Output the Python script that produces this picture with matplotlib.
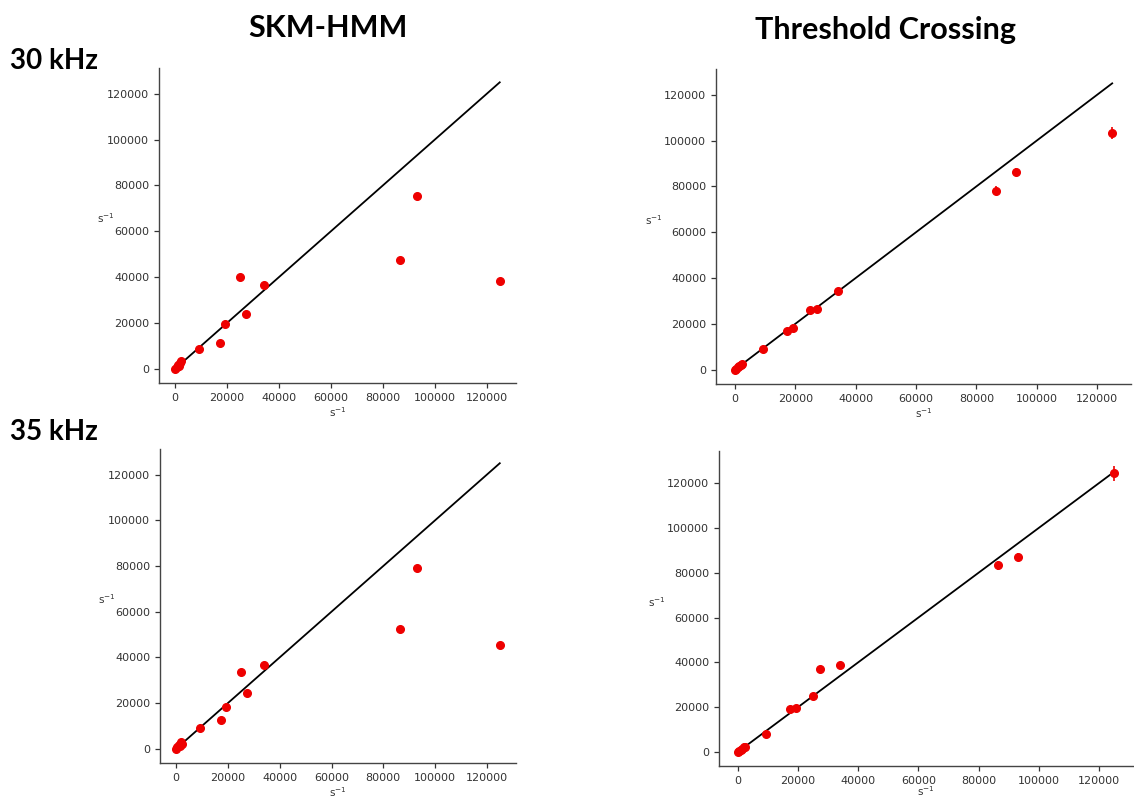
import numpy as np
import matplotlib
matplotlib.use('Agg')
import matplotlib.pyplot as plt

# true rates (s^-1), shared by every panel
x_true = np.array([0, 500, 1000, 1500, 2000, 2300, 9300, 17200, 19200,
                   25000, 27300, 34100, 86400, 93000, 125000])

# estimated rates at 30 kHz
skm_30 = np.array([0, 800, 1500, 1200, 2600, 3300, 8400, 11300, 19300,
                   40000, 23700, 36300, 47400, 75500, 38200])
tc_30 = np.array([0, 500, 1000, 1600, 2000, 2400, 9000, 16700, 18400,
                  26000, 26500, 34400, 78200, 86200, 103200])
tc_30_err = np.array([200, 200, 300, 300, 400, 400, 700, 900, 900,
                      1000, 1000, 1100, 2000, 1800, 2600])

# estimated rates at 35 kHz
skm_35 = np.array([0, 700, 1400, 1200, 2900, 2000, 9000, 12600, 18400,
                   33600, 24600, 36500, 52200, 79300, 45500])
tc_35 = np.array([0, 400, 1000, 1500, 2100, 2400, 7900, 19100, 19600,
                  25200, 36900, 38900, 83400, 87100, 124400])
tc_35_err = np.array([200, 200, 300, 300, 400, 400, 700, 900, 900,
                      1000, 1100, 1100, 2000, 1800, 3300])

col_titles = ['SKM-HMM', 'Threshold Crossing']
row_titles = ['30 kHz', '35 kHz']
ticks = [0, 20000, 40000, 60000, 80000, 100000, 120000]

fig = plt.figure(figsize=(11.34, 7.99), dpi=100)

# axes boxes in figure fractions
boxes = [[0.1402, 0.5207, 0.3148, 0.3942],
         [0.6314, 0.5194, 0.3660, 0.3942],
         [0.1411, 0.0451, 0.3139, 0.3930],
         [0.6340, 0.0413, 0.3650, 0.3942]]
panels = [(skm_30, None), (tc_30, tc_30_err), (skm_35, None), (tc_35, tc_35_err)]
ylims = [(-6250, 131250), (-6250, 131250), (-6250, 131250), (-6250, 134300)]
xlabel_y = [-0.072, -0.072, -0.072, -0.058]

for i, (box, (y, yerr)) in enumerate(zip(boxes, panels)):
    ax = fig.add_axes(box)
    ident = [x_true[5], x_true.max()]
    ax.plot(ident, ident, color='black', lw=1.3, zorder=1)
    if yerr is None:
        ax.plot(x_true, y, 'o', color='#ee0000', ms=5.5, zorder=2)
    else:
        ax.errorbar(x_true, y, yerr=yerr, fmt='o', color='#ee0000', ms=5.5,
                    elinewidth=1.2, capsize=0, zorder=2)
    ax.set_xlim(-6250, 131250)
    ax.set_ylim(*ylims[i])
    ax.set_xticks(ticks)
    ax.set_yticks(ticks)
    ax.spines['top'].set_visible(False)
    ax.spines['right'].set_visible(False)
    for s in ['left', 'bottom']:
        ax.spines[s].set_color('#444444')
        ax.spines[s].set_linewidth(1.0)
    ax.tick_params(labelsize=8, colors='#333333', length=3.5, width=0.9)
    ax.set_xlabel('s$^{-1}$', fontsize=7.5, color='#333333')
    ax.set_ylabel('s$^{-1}$', fontsize=7.5, color='#333333', rotation=0)
    ax.xaxis.set_label_coords(0.5, xlabel_y[i])
    ax.yaxis.set_label_coords(-0.15, 0.50)

# column and row headings
fig.text(0.289, 0.965, col_titles[0], fontsize=22, fontweight='bold',
         family='Lato', ha='center', va='center')
fig.text(0.781, 0.962, col_titles[1], fontsize=22, fontweight='bold',
         family='Lato', ha='center', va='center')
fig.text(0.009, 0.924, row_titles[0], fontsize=20, fontweight='bold',
         family='Lato', ha='left', va='center')
fig.text(0.009, 0.459, row_titles[1], fontsize=20, fontweight='bold',
         family='Lato', ha='left', va='center')

fig.savefig('out.png', dpi=100)
